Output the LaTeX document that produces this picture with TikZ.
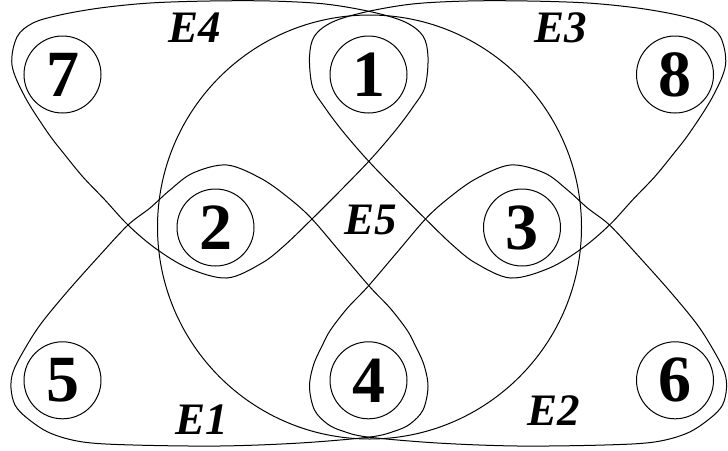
\documentclass[tikz,border=0pt]{standalone}
\usepackage{fontspec}
\setmainfont{Liberation Serif}
\begin{document}
\begin{tikzpicture}[x=1pt,y=-1pt,
  edge/.style={line width=1pt, line join=round},
  vert/.style={circle, draw, line width=1pt, minimum size=77pt, inner sep=0pt,
    font=\fontsize{66}{66}\selectfont\bfseries},
  elabel/.style={font=\fontsize{45}{45}\selectfont\bfseries\itshape, inner sep=0pt}]
\useasboundingbox (0,0) rectangle (728,450);

% hyperedge E5
\draw[edge] (369.5,227) circle[radius=212pt];

% hyperedge E4 (7,1,2)
\draw[edge] plot[smooth cycle, tension=0.55] coordinates {
 (12,65) (17,37) (33,23) (60,15) (100,8) (150,3) (210,1) (270,1) (325,4)
 (372,12) (405,22) (423,36) (428,57) (425,87) (413,107) (395,131) (370,160)
 (341,190) (312,219) (285,245) (262,263) (227,278) (188,268) (155,248)
 (128,225) (105,200) (83,177) (65,155) (48,133) (25,97)};

% hyperedge E3 (1,8,3) : mirror of E4
\begin{scope}[xshift=737.5pt, xscale=-1]
\draw[edge] plot[smooth cycle, tension=0.55] coordinates {
 (12,65) (17,37) (33,23) (60,15) (100,8) (150,3) (210,1) (270,1) (325,4)
 (372,12) (405,22) (423,36) (428,57) (425,87) (413,107) (395,131) (370,160)
 (341,190) (312,219) (285,245) (262,263) (227,278) (188,268) (155,248)
 (128,225) (105,200) (83,177) (65,155) (48,133) (25,97)};
\end{scope}

% hyperedge E1 (5,4,2)
\draw[edge] plot[smooth cycle, tension=0.55] coordinates {
 (11,388) (15,405) (27,418) (50,433) (83,442) (133,445) (220,446) (300,443)
 (370,437) (395,431) (410,424) (423,410) (428,387) (424,365) (415,345)
 (407,330) (390,308) (370,287) (341,253) (312,219) (290,199) (262,179)
 (227,165) (193,173) (170,190) (150,208) (128,225) (100,255) (67,292)
 (40,325) (23,352) (13,372)};

% hyperedge E2 (4,6,3) : mirror of E1
\begin{scope}[xshift=737.5pt, xscale=-1]
\draw[edge] plot[smooth cycle, tension=0.55] coordinates {
 (11,388) (15,405) (27,418) (50,433) (83,442) (133,445) (220,446) (300,443)
 (370,437) (395,431) (410,424) (423,410) (428,387) (424,365) (415,345)
 (407,330) (390,308) (370,287) (341,253) (312,219) (290,199) (262,179)
 (227,165) (193,173) (170,190) (150,208) (128,225) (100,255) (67,292)
 (40,325) (23,352) (13,372)};
\end{scope}

% vertices
\node[vert] (v7) at (62.5,74.5) {7};
\node[vert] (v1) at (368.5,74.5) {1};
\node[vert] (v8) at (675,74.5) {8};
\node[vert] (v2) at (215.5,227.5) {2};
\node[vert] (v3) at (522,227.5) {3};
\node[vert] (v5) at (62.5,380.3) {5};
\node[vert] (v4) at (368.5,380.3) {4};
\node[vert] (v6) at (675,380.3) {6};

% labels
\node[elabel] (l4) at (195,28) {E4};
\node[elabel] (l3) at (561,28) {E3};
\node[elabel] (l5) at (371,220) {E5};
\node[elabel] (l1) at (202,420) {E1};
\node[elabel] (l2) at (554,411) {E2};
\end{tikzpicture}
\end{document}
